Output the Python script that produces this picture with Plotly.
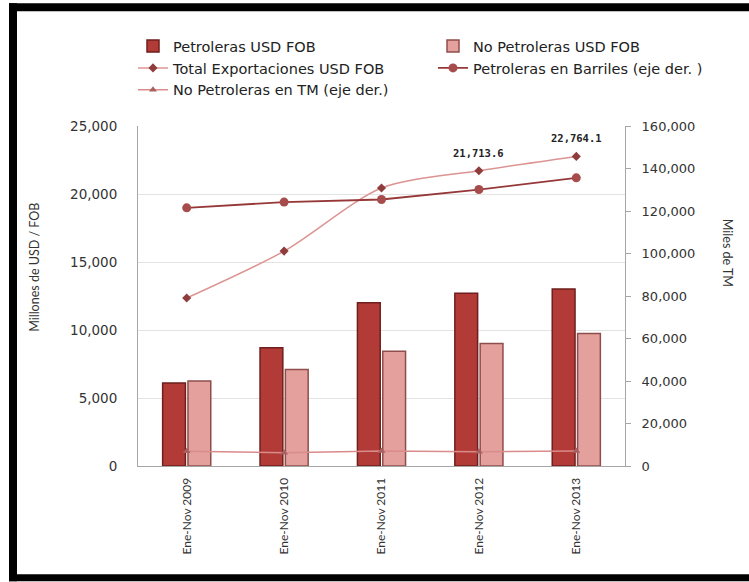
import plotly.graph_objects as go

# ---- data ----
categories = ["Ene-Nov 2009", "Ene-Nov 2010", "Ene-Nov 2011", "Ene-Nov 2012", "Ene-Nov 2013"]
petroleras_usd = [6100, 8700, 12000, 12710, 13020]
no_petroleras_usd = [6250, 7100, 8440, 9000, 9740]
total_usd = [12350, 15800, 20440, 21713.6, 22764.1]
petroleras_barriles = [121500, 124200, 125400, 130100, 135600]
no_petroleras_tm = [7000, 6200, 7100, 6700, 7100]
left_ticks = [0, 5000, 10000, 15000, 20000, 25000]
right_ticks = [0, 20000, 40000, 60000, 80000, 100000, 120000, 140000, 160000]
labelled_years = [3, 4]

W, H = 749, 582
L, R, T, B = 138, 625, 126, 466.5

def px(x):
    return (x - L) / (R - L)

def py(y):
    return (B - y) / (B - T)

fig = go.Figure()
fig.add_trace(go.Bar(
    x=categories, y=petroleras_usd, name="Petroleras USD FOB",
    marker=dict(color="#B23B37", line=dict(color="#6E1F1D", width=1.5)),
))
fig.add_trace(go.Bar(
    x=categories, y=no_petroleras_usd, name="No Petroleras USD FOB",
    marker=dict(color="#E3A09D", line=dict(color="#8E4E4C", width=1.5)),
))
fig.add_trace(go.Scatter(
    x=categories, y=total_usd, name="Total Exportaciones USD FOB",
    mode="lines+markers",
    line=dict(color="#DB9492", width=1.5, shape="spline", smoothing=0.8),
    marker=dict(symbol="diamond", size=7, color="#8E3C3C"),
))
fig.add_trace(go.Scatter(
    x=categories, y=petroleras_barriles, name="Petroleras en Barriles (eje der. )",
    mode="lines+markers", yaxis="y2",
    line=dict(color="#963838", width=1.8),
    marker=dict(symbol="circle", size=9, color="#A64C4C"),
))
fig.add_trace(go.Scatter(
    x=categories, y=no_petroleras_tm, name="No Petroleras en TM (eje der.)",
    mode="lines+markers", yaxis="y2",
    line=dict(color="#D98C8A", width=1.5),
    marker=dict(symbol="triangle-up", size=7, color="#A86060"),
))

shapes = [
    dict(type="rect", xref="paper", yref="paper", x0=px(9), x1=px(17), y0=py(582), y1=py(3),
         fillcolor="black", line=dict(width=0), layer="above"),
    dict(type="rect", xref="paper", yref="paper", x0=px(9), x1=px(749), y0=py(11), y1=py(3),
         fillcolor="black", line=dict(width=0), layer="above"),
    dict(type="rect", xref="paper", yref="paper", x0=px(9), x1=px(749), y0=py(582), y1=py(575),
         fillcolor="black", line=dict(width=0), layer="above"),
]

annotations = [
    dict(text="Millones de USD / FOB", xref="paper", yref="paper", x=px(35), y=py(268),
         xanchor="center", yanchor="middle",
         showarrow=False, textangle=-90, font=dict(family="Lato", size=12.5, color="#333333")),
    dict(text="Miles de TM", xref="paper", yref="paper", x=px(727), y=py(253),
         xanchor="center", yanchor="middle",
         showarrow=False, textangle=90, font=dict(family="Lato", size=12.5, color="#333333")),
]
for i in labelled_years:
    annotations.append(dict(
        text=f"{total_usd[i]:,.1f}", x=categories[i], y=total_usd[i], xref="x", yref="y",
        showarrow=False, yshift=18, xanchor="center", yanchor="middle",
        font=dict(family="DejaVu Sans Mono", size=10.5, color="#222222", weight="bold"),
    ))

fig.update_layout(
    width=W, height=H,
    margin=dict(l=L, r=W - R, t=T, b=H - B, pad=0),
    paper_bgcolor="white", plot_bgcolor="white",
    barmode="group", bargap=0.48, bargroupgap=0.1,
    font=dict(family="DejaVu Sans", size=12, color="#333333"),
    showlegend=True,
    legend=dict(orientation="h", x=px(133), y=py(30), xanchor="left", yanchor="top",
                entrywidth=255, entrywidthmode="pixels", traceorder="normal",
                font=dict(family="DejaVu Sans", size=14.5, color="#222222"),
                bgcolor="rgba(0,0,0,0)"),
    xaxis=dict(type="category", tickangle=-90, showline=True, linecolor="#A6A6A6", linewidth=1,
               ticks="", tickfont=dict(family="Lato", size=12, color="#333333"),
               ticklabelstandoff=6, showgrid=False),
    yaxis=dict(range=[0, 25000], tickvals=left_ticks, tickformat=",", showline=True,
               linecolor="#A6A6A6", linewidth=1, showgrid=True, gridcolor="#E3E3E3",
               zeroline=False, ticks="", ticklabelstandoff=17,
               tickfont=dict(family="DejaVu Sans", size=13.5, color="#333333")),
    yaxis2=dict(range=[0, 160000], tickvals=right_ticks, tickformat=",", overlaying="y",
                side="right", showline=True, linecolor="#A6A6A6", linewidth=1, showgrid=False,
                zeroline=False, ticks="outside", ticklen=5, tickcolor="#A6A6A6",
                ticklabelstandoff=8,
                tickfont=dict(family="DejaVu Sans", size=13, color="#333333")),
    shapes=shapes, annotations=annotations,
)

fig.write_html("out.html")
